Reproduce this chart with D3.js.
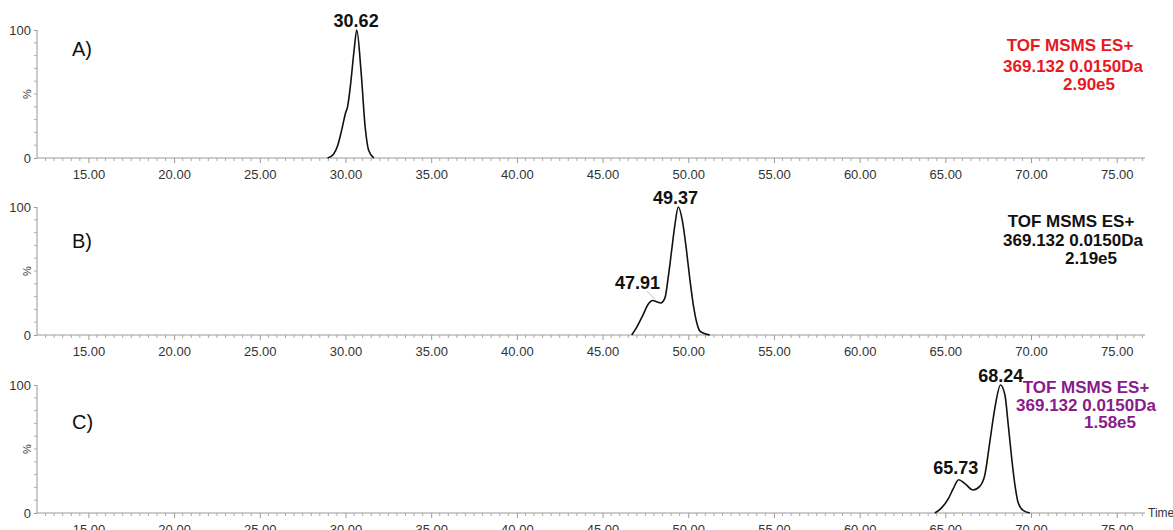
<!DOCTYPE html>
<html>
<head>
<meta charset="utf-8">
<script src="https://cdn.jsdelivr.net/npm/d3@7"></script>
<style>
  html, body { margin: 0; padding: 0; background: #fff; }
  svg { display: block; font-family: "Liberation Sans", Arial, Helvetica, sans-serif; }
</style>
</head>
<body>
<svg id="chart" width="1173" height="530"></svg>
<script>
// ---------------- DATA ----------------
const panelNames = ["A)", "B)", "C)"];

// Chromatogram traces (time in min, intensity in %)
const timesA = [28.95, 29.3, 29.55, 29.78, 30.0, 30.12, 30.3, 30.5, 30.66, 30.9, 31.15, 31.35, 31.65];
const valuesA = [0, 3, 10, 22, 35, 40, 58, 84, 100, 69, 24, 6, 0];

const timesB = [46.7, 46.99, 47.37, 47.66, 47.92, 48.16, 48.39, 48.64, 48.83, 49.03, 49.22, 49.42, 49.66, 49.88, 50.08, 50.29, 50.49, 50.68, 50.97, 51.26];
const valuesB = [0, 6, 16, 24, 27, 26, 25, 29, 45, 66, 86, 100, 89, 68, 45, 24, 10, 3, 1, 0];

const timesC = [64.39, 64.78, 65.17, 65.46, 65.78, 66.14, 66.62, 67.02, 67.31, 67.6, 67.89, 68.22, 68.48, 68.67, 68.87, 69.06, 69.25, 69.54, 69.93];
const valuesC = [0, 4, 11, 19, 26, 23, 18, 21, 30, 56, 82, 100, 92, 69, 43, 22, 8, 2, 0];

// Peak labels
const peakTimesA = [30.62];
const peakValuesA = [100];
const peakTimesB = [47.91, 49.37];
const peakValuesB = [27, 100];
const peakTimesC = [65.73, 68.24];
const peakValuesC = [26, 100];

// Annotation text
const annotLine1 = ["TOF MSMS ES+", "TOF MSMS ES+", "TOF MSMS ES+"];
const annotLine2 = ["369.132 0.0150Da", "369.132 0.0150Da", "369.132 0.0150Da"];
const annotLine3 = ["2.90e5", "2.19e5", "1.58e5"];

// Axis ticks
const xTickValues = [15, 20, 25, 30, 35, 40, 45, 50, 55, 60, 65, 70, 75];
const xTickLabels = ["15.00", "20.00", "25.00", "30.00", "35.00", "40.00", "45.00", "50.00", "55.00", "60.00", "65.00", "70.00", "75.00"];
const yTickValues = [0, 100];
const yTickLabels = ["0", "100"];
const xDomain = [12.0, 76.65];
const yDomain = [0, 100];

// ---------------- LAYOUT / STYLE ----------------
const panelTops = [30, 207, 385];
const panelHeight = 128;
const left = 37, right = 1145;
const annotColors = ["#e8181f", "#111111", "#8a1a8a"];
const annotCenters = [[1070, 1073, 1089], [1071, 1073, 1091], [1086, 1086, 1110]];
const annotBaselines = [[51, 72, 90], [227, 246, 264], [393, 411, 428]];
const panelLabelY = [56, 248, 429];
// per-label offsets (dx, dy) relative to peak point
const peakOffsets = [
  [[0, -3]],
  [[-15, -11], [-2, -3]],
  [[-2, -6], [0, -3]]
];

const traces = [
  { t: timesA, v: valuesA, pt: peakTimesA, pv: peakValuesA },
  { t: timesB, v: valuesB, pt: peakTimesB, pv: peakValuesB },
  { t: timesC, v: valuesC, pt: peakTimesC, pv: peakValuesC }
];

const svg = d3.select("#chart");
const x = d3.scaleLinear().domain(xDomain).range([left, right]);
const minorX = d3.range(12.5, 76.6, 0.5).filter(v => Math.abs(v % 5) > 1e-6);
const minorY = d3.range(10, 100, 10);

traces.forEach((tr, i) => {
  const top = panelTops[i];
  const y = d3.scaleLinear().domain(yDomain).range([top + panelHeight, top]);
  const g = svg.append("g");

  // x axis
  const xAxis = d3.axisBottom(x).tickValues(xTickValues)
    .tickFormat((d, k) => xTickLabels[k]).tickSize(5).tickPadding(6);
  const gx = g.append("g").attr("transform", `translate(0,${top + panelHeight})`).call(xAxis);
  gx.select(".domain").attr("stroke", "#9a9a9a").attr("d", `M${left},0H${right}`);
  gx.selectAll(".tick line").attr("stroke", "#9a9a9a");
  gx.selectAll(".tick text").attr("fill", "#333").attr("font-size", 13).attr("dy", "0.75em");
  gx.selectAll(".minor").data(minorX).enter().append("line")
    .attr("x1", d => x(d)).attr("x2", d => x(d)).attr("y1", 0).attr("y2", 3)
    .attr("stroke", "#a8a8a8");

  // y axis
  const yAxis = d3.axisLeft(y).tickValues(yTickValues)
    .tickFormat((d, k) => yTickLabels[k]).tickSize(3).tickPadding(3);
  const gy = g.append("g").attr("transform", `translate(${left},0)`).call(yAxis);
  gy.select(".domain").attr("stroke", "#9a9a9a").attr("d", `M0,${top}V${top + panelHeight}`);
  gy.selectAll(".tick line").attr("stroke", "#9a9a9a");
  gy.selectAll(".tick text").attr("fill", "#333").attr("font-size", 13);
  gy.selectAll(".minor").data(minorY).enter().append("line")
    .attr("x1", -3).attr("x2", 0).attr("y1", d => y(d)).attr("y2", d => y(d))
    .attr("stroke", "#b0b0b0");

  // % label
  g.append("text")
    .attr("transform", `translate(31,${y(50)}) rotate(-90)`)
    .attr("text-anchor", "middle").attr("font-size", 11).attr("fill", "#333")
    .text("%");

  // panel label
  g.append("text").attr("x", 72).attr("y", panelLabelY[i])
    .attr("font-size", 20).attr("fill", "#111").text(panelNames[i]);

  // trace
  const pts = tr.t.map((t, k) => [t, tr.v[k]]);
  const line = d3.line().x(d => x(d[0])).y(d => y(d[1])).curve(d3.curveMonotoneX);
  g.append("path").datum(pts).attr("d", line)
    .attr("fill", "none").attr("stroke", "#111").attr("stroke-width", 1.6)
    .attr("stroke-linejoin", "round");

  // leader line for shoulder in panel B
  if (i === 1) {
    g.append("line")
      .attr("x1", x(47.6)).attr("y1", y(34))
      .attr("x2", x(48.05)).attr("y2", y(28))
      .attr("stroke", "#aaa").attr("stroke-width", 0.8);
  }

  // peak labels
  tr.pt.forEach((t, k) => {
    g.append("text")
      .attr("x", x(t) + peakOffsets[i][k][0])
      .attr("y", y(tr.pv[k]) + peakOffsets[i][k][1])
      .attr("text-anchor", "middle").attr("font-size", 18).attr("font-weight", "bold")
      .attr("fill", "#111").text(t.toFixed(2));
  });

  // annotations
  [annotLine1[i], annotLine2[i], annotLine3[i]].forEach((txt, k) => {
    g.append("text")
      .attr("x", annotCenters[i][k]).attr("y", annotBaselines[i][k])
      .attr("text-anchor", "middle").attr("font-size", 17).attr("font-weight", "bold")
      .attr("fill", annotColors[i]).text(txt);
  });
});

// Time label
svg.append("text").attr("x", 1148).attr("y", panelTops[2] + panelHeight + 4)
  .attr("font-size", 12).attr("fill", "#333").text("Time");
</script>
</body>
</html>
